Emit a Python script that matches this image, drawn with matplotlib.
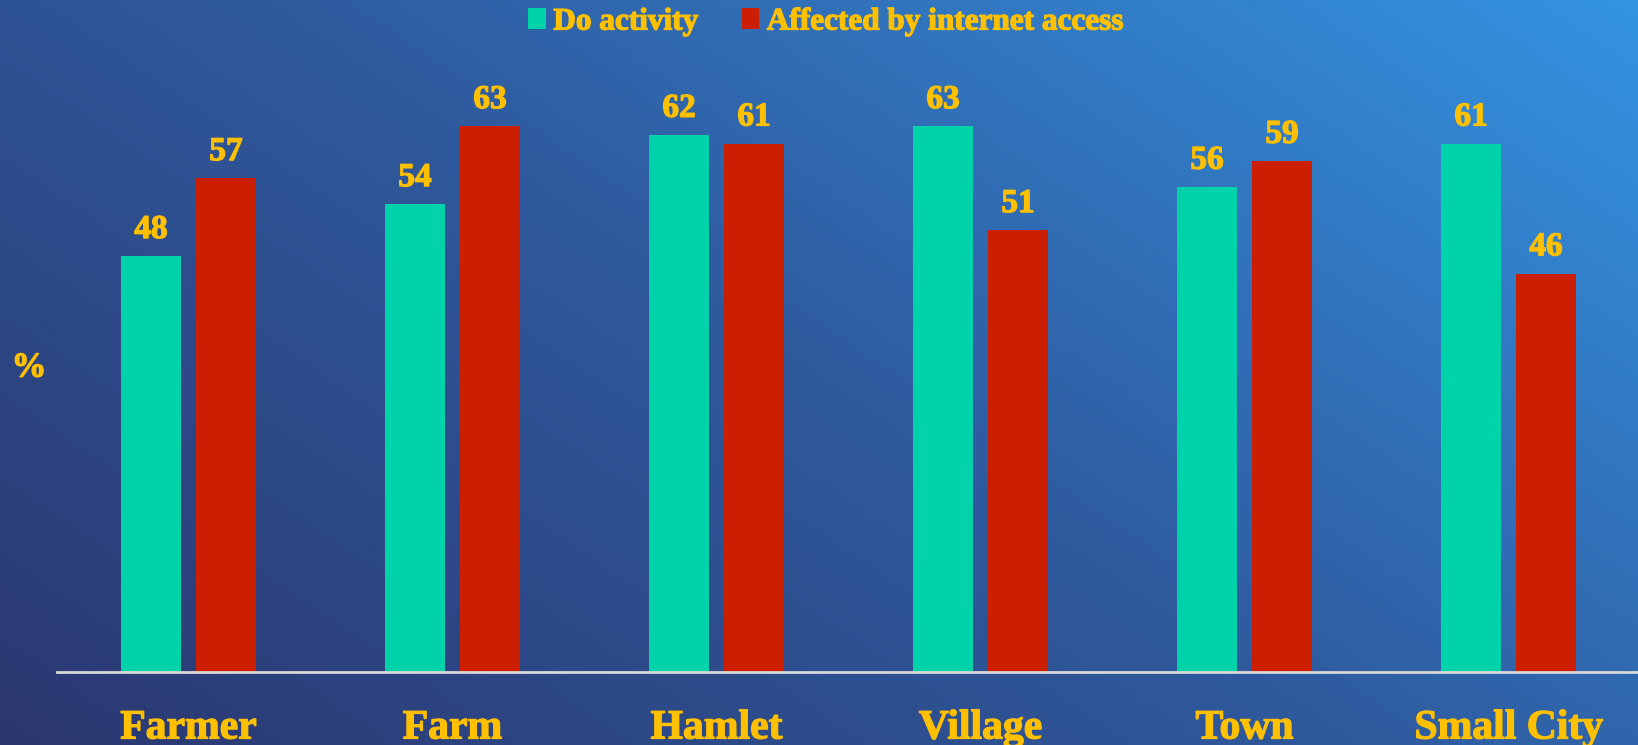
import numpy as np
import matplotlib.pyplot as plt
import matplotlib.patheffects as pe
from matplotlib.colors import LinearSegmentedColormap

# data
categories = ["Farmer", "Farm", "Hamlet", "Village", "Town", "Small City"]
do_activity = [48, 54, 62, 63, 56, 61]
affected = [57, 63, 61, 51, 59, 46]

gold = "#FFC000"
green = "#00D2AA"
red = "#CC1E00"
font = "Liberation Serif"
# slight stroke so the bold serif looks as heavy as in the original slide
heavy = [pe.withStroke(linewidth=0.9, foreground=gold)]

W, H = 1638, 745
fig = plt.figure(figsize=(W / 100, H / 100), dpi=100)

# diagonal gradient background
bg = fig.add_axes([0, 0, 1, 1])
xx, yy = np.meshgrid(np.linspace(0, 1, 400), np.linspace(0, 1, 200))
t = (xx * 0.6 + yy * 0.4)
cmap = LinearSegmentedColormap.from_list("bg", ["#2b3770", "#2f5a9e", "#3494e2"])
bg.imshow(t, cmap=cmap, origin="lower", aspect="auto", extent=[0, 1, 0, 1])
bg.axis("off")

# main axes, placed in pixel terms
left, right, base = 57, W, 672
px_per_unit = 8.66
ymax = 70
ax = fig.add_axes([left / W, (H - base) / H, (right - left) / W, ymax * px_per_unit / H])
ax.patch.set_alpha(0)

x = np.arange(len(categories))
spacing = 264
bw = 60 / spacing
off = 37.5 / spacing
b1 = ax.bar(x - off, do_activity, bw, color=green, label="Do activity")
b2 = ax.bar(x + off, affected, bw, color=red, label="Affected by internet access")

for bars, vals in [(b1, do_activity), (b2, affected)]:
    for rect, v in zip(bars, vals):
        ax.text(rect.get_x() + rect.get_width() / 2, v + 1.3, str(v), ha="center", va="bottom",
                color=gold, fontsize=24, fontweight="bold", family=font, path_effects=heavy)

ax.set_xlim(-(188.5 - left) / spacing, (right - 188.5) / spacing)
ax.set_ylim(0, ymax)
ax.set_yticks([])
ax.set_xticks(x)
ax.set_xticklabels(categories, color=gold, fontsize=30, fontweight="bold", family=font)
for lab in ax.get_xticklabels():
    lab.set_path_effects(heavy)
ax.tick_params(axis="x", length=0, pad=27)
for s in ["top", "right", "left"]:
    ax.spines[s].set_visible(False)
ax.spines["bottom"].set_color("#d8d8d8")
ax.spines["bottom"].set_linewidth(2)

fig.text(29 / W, 1 - 368 / H, "%", color=gold, fontsize=25, fontweight="bold", family=font,
         ha="center", va="center", path_effects=heavy)

leg = fig.legend(handles=[b1, b2], loc="center", bbox_to_anchor=(826 / W, 1 - 22 / H), ncol=2,
                 frameon=False, handlelength=0.55, handleheight=0.65, handletextpad=0.25,
                 columnspacing=1.4, prop={"family": font, "weight": "bold", "size": 22.5})
for txt in leg.get_texts():
    txt.set_color(gold)
    txt.set_path_effects(heavy)

fig.savefig("out.png", dpi=100)
